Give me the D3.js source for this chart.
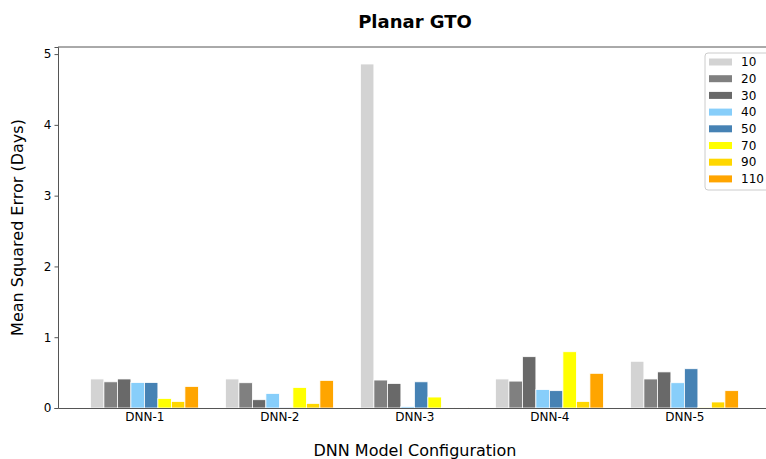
<!DOCTYPE html>
<html>
<head>
<meta charset="utf-8">
<script src="https://cdn.jsdelivr.net/npm/d3@7"></script>
<style>
  body { margin: 0; background: #fff; }
  svg { font-family: "DejaVu Sans", sans-serif; display: block; }
</style>
</head>
<body>
<div id="chart_area"></div>
<script>
// data
const models = ['DNN-1', 'DNN-2', 'DNN-3', 'DNN-4', 'DNN-5'];
const series = ['10', '20', '30', '40', '50', '70', '90', '110'];
const colors = ['#d3d3d3', '#808080', '#696969', '#87cefa', '#4682b4', '#ffff00', '#ffd700', '#ffa500'];
const s10 = [0.41, 0.41, 4.86, 0.41, 0.66];
const s20 = [0.37, 0.357, 0.395, 0.38, 0.41];
const s30 = [0.41, 0.117, 0.347, 0.725, 0.51];
const s40 = [0.36, 0.206, 0.02, 0.26, 0.357];
const s50 = [0.36, 0.005, 0.37, 0.245, 0.555];
const s70 = [0.135, 0.29, 0.155, 0.795, 0.005];
const s90 = [0.093, 0.065, 0.01, 0.093, 0.085];
const s110 = [0.305, 0.39, 0.01, 0.49, 0.245];
const values = [s10, s20, s30, s40, s50, s70, s90, s110];
const yTicks = [0, 1, 2, 3, 4, 5];

const W = 766, H = 459;
const margin = { top: 47, right: -14, bottom: 51, left: 58 };
const width = W - margin.left - margin.right;
const height = H - margin.top - margin.bottom;

const svg = d3.select('#chart_area').append('svg')
  .attr('width', W).attr('height', H);
const g = svg.append('g')
  .attr('transform', 'translate(' + margin.left + ',' + margin.top + ')');

// x: group positions like matplotlib (0..4) with padding
const x = d3.scaleLinear().domain([-0.64, -0.64 + width / 135]).range([0, width]);
const groupW = x(1) - x(0);
const barW = groupW * 0.1;
const y = d3.scaleLinear().domain([0, 5.1]).range([height, 0]);

// bars
series.forEach(function(s, i) {
  g.selectAll('rect.s' + i)
    .data(values[i])
    .enter()
    .append('rect')
    .attr('class', 's' + i)
    .attr('x', (d, j) => x(j) + (i - 4) * barW)
    .attr('y', d => y(d))
    .attr('width', barW)
    .attr('height', d => y(0) - y(d))
    .attr('fill', colors[i])
    .attr('stroke', '#fff')
    .attr('stroke-width', 0.8);
});

// axes
const xAxis = d3.axisBottom(x).tickValues(d3.range(models.length))
  .tickFormat(i => models[i]).tickSizeOuter(0).tickSize(0).tickPadding(4);
const yAxis = d3.axisLeft(y).tickValues(yTicks).tickFormat(d3.format('d'))
  .tickSizeOuter(0).tickSize(3.5);

const gx = g.append('g').attr('transform', 'translate(0,' + height + ')').call(xAxis);
const gy = g.append('g').call(yAxis);
[gx, gy].forEach(a => {
  a.selectAll('path, line').attr('stroke', '#555');
  a.selectAll('text').attr('font-size', 12).attr('fill', '#000')
    .attr('font-family', '"DejaVu Sans", sans-serif');
});
// top spine
g.append('line').attr('x1', 0).attr('x2', width).attr('y1', 0).attr('y2', 0)
  .attr('stroke', '#555');

// labels
svg.append('text').attr('x', 415).attr('y', 28).attr('text-anchor', 'middle')
  .attr('font-size', 18).attr('font-weight', 'bold').text('Planar GTO');
svg.append('text').attr('x', 415).attr('y', 456).attr('text-anchor', 'middle')
  .attr('font-size', 16).text('DNN Model Configuration');
svg.append('text').attr('transform', 'translate(23,' + (margin.top + height / 2) + ') rotate(-90)')
  .attr('text-anchor', 'middle').attr('font-size', 16).text('Mean Squared Error (Days)');

// legend
const leg = svg.append('g').attr('transform', 'translate(705,53)');
leg.append('rect').attr('width', 70).attr('height', 137).attr('rx', 3)
  .attr('fill', '#fff').attr('fill-opacity', 0.8).attr('stroke', '#ccc');
series.forEach(function(s, i) {
  const row = leg.append('g').attr('transform', 'translate(0,' + (9 + i * 16.7) + ')');
  row.append('rect').attr('x', 4).attr('y', -3.5).attr('width', 23).attr('height', 7)
    .attr('fill', colors[i]);
  row.append('text').attr('x', 36).attr('y', 0).attr('dy', '0.35em')
    .attr('font-size', 12).text(s);
});
</script>
</body>
</html>
